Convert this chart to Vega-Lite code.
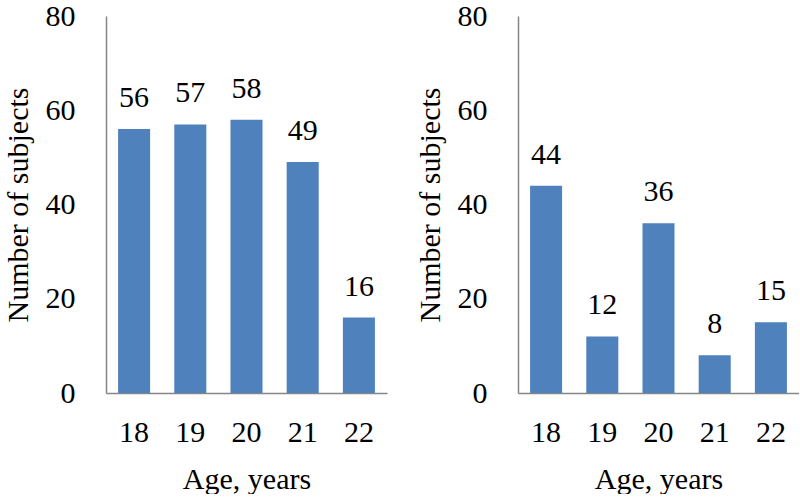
{
  "$schema": "https://vega.github.io/schema/vega-lite/v6.json",
  "padding": {"left": 3, "top": 1, "right": 0, "bottom": 0},
  "background": "white",
  "datasets": {
    "left": [
      {"age": "18", "n": 56}, {"age": "19", "n": 57}, {"age": "20", "n": 58}, {"age": "21", "n": 49}, {"age": "22", "n": 16}
    ],
    "right": [
      {"age": "18", "n": 44}, {"age": "19", "n": 12}, {"age": "20", "n": 36}, {"age": "21", "n": 8}, {"age": "22", "n": 15}
    ]
  },
  "config": {
    "view": {"stroke": null},
    "font": "Liberation Serif",
    "axis": {
      "labelFont": "Liberation Serif",
      "titleFont": "Liberation Serif",
      "labelFontSize": 30,
      "titleFontSize": 30,
      "titleFontWeight": "normal",
      "labelColor": "#000000",
      "titleColor": "#000000",
      "domainColor": "#868686",
      "domainWidth": 1.5,
      "ticks": false,
      "grid": false
    },
    "concat": {"spacing": 28}
  },
  "hconcat": [
    {
      "data": {"name": "left"},
      "width": 281,
      "height": 377,
      "encoding": {
        "x": {"field": "age", "type": "nominal", "scale": {"paddingInner": 0.43, "paddingOuter": 0.215}, "axis": {"title": "Age, years", "labelAngle": 0, "labelPadding": 24, "titlePadding": 17}},
        "y": {"field": "n", "type": "quantitative", "scale": {"domain": [0, 80]}, "axis": {"title": "Number of subjects", "values": [0, 20, 40, 60, 80], "labelPadding": 31, "titlePadding": 12}}
      },
      "layer": [
        {"mark": {"type": "bar", "color": "#4F81BD"}},
        {"mark": {"type": "text", "baseline": "middle", "dy": -31, "fontSize": 30, "font": "Liberation Serif", "color": "#000000"}, "encoding": {"text": {"field": "n", "type": "quantitative"}}}
      ]
    },
    {
      "data": {"name": "right"},
      "width": 281,
      "height": 377,
      "encoding": {
        "x": {"field": "age", "type": "nominal", "scale": {"paddingInner": 0.43, "paddingOuter": 0.215}, "axis": {"title": "Age, years", "labelAngle": 0, "labelPadding": 24, "titlePadding": 17}},
        "y": {"field": "n", "type": "quantitative", "scale": {"domain": [0, 80]}, "axis": {"title": "Number of subjects", "values": [0, 20, 40, 60, 80], "labelPadding": 31, "titlePadding": 12}}
      },
      "layer": [
        {"mark": {"type": "bar", "color": "#4F81BD"}},
        {"mark": {"type": "text", "baseline": "middle", "dy": -31, "fontSize": 30, "font": "Liberation Serif", "color": "#000000"}, "encoding": {"text": {"field": "n", "type": "quantitative"}}}
      ]
    }
  ]
}
